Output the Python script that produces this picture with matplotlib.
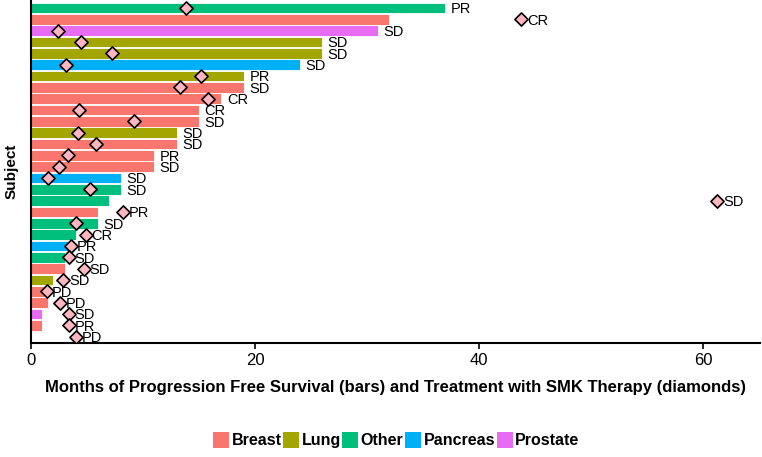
import matplotlib
matplotlib.use("Agg")
import matplotlib.pyplot as plt
from matplotlib.patches import Patch

# one row per subject, top to bottom
cancer = ['Other', 'Breast', 'Prostate', 'Lung', 'Lung', 'Pancreas', 'Lung', 'Breast',
          'Breast', 'Breast', 'Breast', 'Lung', 'Breast', 'Breast', 'Breast', 'Pancreas',
          'Other', 'Other', 'Breast', 'Other', 'Other', 'Pancreas', 'Other', 'Breast',
          'Lung', 'Breast', 'Breast', 'Prostate', 'Breast', 'Breast']
pfs = [37, 32, 31, 26, 26, 24, 19, 19, 17, 15, 15, 13, 13, 11, 11, 8,
       8, 7, 6, 6, 4, 3.6, 3, 3, 2, 1.4, 1.5, 1, 1, 0]
smk = [13.8, 43.8, 2.4, 4.5, 7.2, 3.1, 15.2, 13.3, 15.8, 4.3, 9.2, 4.2, 5.8, 3.3, 2.5, 1.5,
       5.3, 61.3, 8.2, 4.0, 4.9, 3.6, 3.4, 4.7, 2.9, 1.4, 2.6, 3.4, 3.4, 4.0]
response = ['PR', 'CR', 'SD', 'SD', 'SD', 'SD', 'PR', 'SD', 'CR', 'CR', 'SD', 'SD', 'SD', 'PR',
            'SD', 'SD', 'SD', 'SD', 'PR', 'SD', 'CR', 'PR', 'SD', 'SD', 'SD', 'PD', 'PD',
            'SD', 'PR', 'PD']

types = ['Breast', 'Lung', 'Other', 'Pancreas', 'Prostate']
colors = {'Breast': '#F8766D', 'Lung': '#A3A500', 'Other': '#00BF7D',
          'Pancreas': '#00B0F6', 'Prostate': '#E76BF3'}

plain = ['Liberation Sans', 'DejaVu Sans']

fig = plt.figure(figsize=(7.62, 4.57), dpi=100)
ax = fig.add_axes([31 / 762, 1 - 343 / 457, (760 - 31) / 762, 343 / 457])

rows = list(range(len(pfs)))
ax.barh(rows, pfs, height=0.95, color=[colors[c] for c in cancer],
        edgecolor='white', linewidth=0.6, zorder=2)
ax.scatter(smk, rows, marker='D', s=45, facecolor='#FFB6C1', edgecolor='black',
           linewidth=1.2, zorder=3)
for r in rows:
    ax.annotate(response[r], (max(pfs[r], smk[r]), r), xytext=(4, -1),
                textcoords='offset points', va='center', ha='left',
                fontsize=10.5, family=plain, zorder=4)

ax.set_xlim(0, 65.1)
ax.set_ylim(29.55, -0.7)
ax.set_yticks([])
ax.set_xticks([0, 20, 40, 60])
for lab in ax.get_xticklabels():
    lab.set_family(plain)
ax.tick_params(axis='x', length=4, width=1.2, labelsize=12, pad=3)
ax.spines['top'].set_visible(False)
ax.spines['right'].set_visible(False)
ax.spines['left'].set_linewidth(1.5)
ax.spines['bottom'].set_linewidth(1.5)

ax.set_xlabel('Months of Progression Free Survival (bars) and Treatment with SMK Therapy (diamonds)',
              fontsize=12, fontweight='bold', family=plain, labelpad=9)
ax.set_ylabel('Subject', fontsize=11, fontweight='bold', family=plain, labelpad=9)

handles = [Patch(facecolor=colors[t], edgecolor='none', label=t) for t in types]
fig.legend(handles=handles, loc='center', bbox_to_anchor=(0.52, 1 - 440 / 457), ncol=5,
           frameon=False, handlelength=1.0, handleheight=1.2, handletextpad=0.15,
           columnspacing=0.1, prop={'family': plain, 'weight': 'bold', 'size': 11.5})

fig.savefig('out.png', dpi=100)
